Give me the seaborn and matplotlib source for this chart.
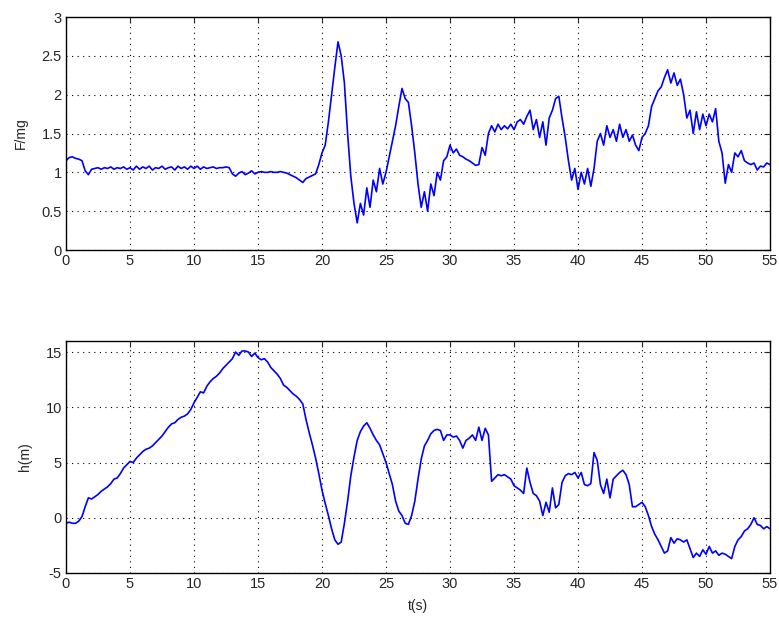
import numpy as np
import pandas as pd
import seaborn as sns
import matplotlib
matplotlib.use('Agg')
import matplotlib.pyplot as plt

# time axis, one sample every 0.25 s
t = np.arange(0, 55.01, 0.25)

# F/mg, 5 s per row
f_mg = [
    1.15, 1.19, 1.20, 1.18, 1.17, 1.15, 1.02, 0.97, 1.04, 1.05, 1.06, 1.04, 1.06, 1.05, 1.07, 1.04, 1.06, 1.05, 1.07, 1.04,
    1.06, 1.03, 1.08, 1.04, 1.07, 1.05, 1.08, 1.03, 1.06, 1.05, 1.08, 1.04, 1.06, 1.07, 1.03, 1.08, 1.05, 1.07, 1.04, 1.08,
    1.05, 1.08, 1.04, 1.07, 1.05, 1.06, 1.07, 1.05, 1.06, 1.06, 1.07, 1.06, 0.98, 0.95, 0.99, 1.01, 0.97, 0.99, 1.02, 0.98,
    1.00, 1.01, 1.00, 1.00, 1.01, 1.00, 1.00, 1.01, 1.00, 0.99, 0.97, 0.95, 0.93, 0.90, 0.87, 0.92, 0.94, 0.96, 0.98, 1.10,
    1.25, 1.35, 1.65, 2.00, 2.35, 2.68, 2.50, 2.15, 1.50, 0.95, 0.60, 0.35, 0.60, 0.45, 0.80, 0.55, 0.90, 0.75, 1.05, 0.85,
    1.00, 1.20, 1.40, 1.60, 1.85, 2.08, 1.95, 1.90, 1.60, 1.25, 0.85, 0.55, 0.75, 0.50, 0.85, 0.70, 1.00, 0.90, 1.15, 1.20,
    1.35, 1.25, 1.30, 1.22, 1.20, 1.17, 1.15, 1.12, 1.09, 1.10, 1.32, 1.22, 1.50, 1.60, 1.52, 1.62, 1.55, 1.60, 1.56, 1.62,
    1.55, 1.65, 1.68, 1.62, 1.72, 1.80, 1.55, 1.68, 1.45, 1.65, 1.35, 1.70, 1.80, 1.95, 1.98, 1.70, 1.45, 1.15, 0.90, 1.05,
    0.78, 1.00, 0.85, 1.05, 0.82, 1.05, 1.40, 1.50, 1.35, 1.60, 1.45, 1.55, 1.40, 1.62, 1.45, 1.55, 1.40, 1.48, 1.35, 1.28,
    1.45, 1.50, 1.60, 1.85, 1.95, 2.05, 2.10, 2.22, 2.32, 2.15, 2.28, 2.12, 2.20, 2.00, 1.70, 1.80, 1.50, 1.78, 1.55, 1.75,
    1.60, 1.75, 1.65, 1.82, 1.40, 1.25, 0.86, 1.10, 1.00, 1.25, 1.20, 1.28, 1.15, 1.12, 1.10, 1.12, 1.03, 1.08, 1.07, 1.12,
    1.10,
]

# height h(m)
h_m = [
    -0.5, -0.4, -0.5, -0.5, -0.3, 0.1, 1.0, 1.8, 1.7, 1.9, 2.1, 2.4, 2.6, 2.8, 3.1, 3.5, 3.6, 4.0, 4.5, 4.8,
    5.1, 5.0, 5.4, 5.7, 6.0, 6.2, 6.3, 6.5, 6.8, 7.1, 7.4, 7.8, 8.2, 8.5, 8.6, 8.9, 9.1, 9.2, 9.4, 9.8,
    10.4, 10.9, 11.4, 11.3, 11.9, 12.3, 12.6, 12.8, 13.1, 13.5, 13.8, 14.1, 14.4, 15.0, 14.7, 15.1, 15.1, 15.0, 14.6, 14.9,
    14.5, 14.3, 14.4, 14.1, 13.6, 13.3, 13.0, 12.6, 12.0, 11.8, 11.5, 11.2, 11.0, 10.7, 10.3, 8.9, 7.7, 6.6, 5.4, 4.0,
    2.5, 1.3, 0.2, -1.0, -2.0, -2.4, -2.2, -0.5, 1.5, 3.8, 5.5, 7.0, 7.8, 8.3, 8.6, 8.1, 7.5, 7.0, 6.6, 5.8,
    5.0, 4.0, 3.0, 1.5, 0.6, 0.2, -0.5, -0.6, 0.2, 1.5, 3.5, 5.3, 6.5, 7.0, 7.6, 7.9, 8.0, 7.9, 7.0, 7.5,
    7.5, 7.3, 7.4, 7.0, 6.3, 7.0, 7.2, 7.5, 7.0, 8.2, 7.0, 8.1, 7.5, 3.3, 3.6, 3.9, 3.8, 3.9, 3.7, 3.5,
    2.9, 2.7, 2.5, 2.2, 4.5, 3.2, 2.2, 2.0, 1.5, 0.2, 1.4, 0.5, 2.7, 0.9, 1.2, 3.2, 3.8, 4.0, 3.9, 4.1,
    3.6, 4.1, 3.0, 2.9, 3.1, 5.9, 5.2, 3.0, 2.2, 3.5, 1.8, 3.5, 3.8, 4.1, 4.3, 3.9, 3.0, 1.0, 1.0, 1.2,
    1.4, 1.0, 0.2, -0.8, -1.5, -2.0, -2.6, -3.2, -3.0, -1.8, -2.3, -1.9, -2.0, -2.2, -2.0, -2.8, -3.6, -3.2, -3.5, -2.9,
    -3.3, -2.6, -3.2, -3.0, -3.4, -3.2, -3.3, -3.5, -3.7, -2.6, -2.0, -1.7, -1.2, -1.0, -0.6, 0.0, -0.6, -0.7, -1.0, -0.8,
    -1.0,
]

x_ticks = list(range(0, 56, 5))
f_ticks = [0, 0.5, 1, 1.5, 2, 2.5, 3]
h_ticks = [-5, 0, 5, 10, 15]

df = pd.DataFrame({'t': t, 'F/mg': f_mg, 'h(m)': h_m})

sns.set_style('white')
plt.rcParams['font.family'] = ['Liberation Sans', 'DejaVu Sans']

fig = plt.figure(figsize=(7.79, 6.21), dpi=100)
ax1 = fig.add_axes([0.0847, 0.5974, 0.9038, 0.3752])
ax2 = fig.add_axes([0.0847, 0.0773, 0.9038, 0.3736])

panels = [(ax1, 'F/mg', f_ticks, (0, 3)), (ax2, 'h(m)', h_ticks, (-5, 16))]
for ax, col, yt, ylim in panels:
    sns.lineplot(data=df, x='t', y=col, ax=ax, color='#0000ff', linewidth=1.2)
    ax.set_xlim(0, 55)
    ax.set_ylim(*ylim)
    ax.set_xticks(x_ticks)
    ax.set_yticks(yt)
    ax.set_yticklabels([f'{v:g}' for v in yt])
    ax.grid(True, color='black', linestyle=(0, (1, 4)), linewidth=0.8)
    ax.tick_params(direction='in', top=True, right=True, length=4, labelsize=10.5, pad=3)
    for sp in ax.spines.values():
        sp.set_color('black')
        sp.set_linewidth(1.0)
    ax.set_ylabel(col, fontsize=10, labelpad=10)
    ax.set_xlabel('')

ax2.set_xlabel('t(s)', fontsize=10, labelpad=6)

fig.savefig('out.png', dpi=100, facecolor='white')
